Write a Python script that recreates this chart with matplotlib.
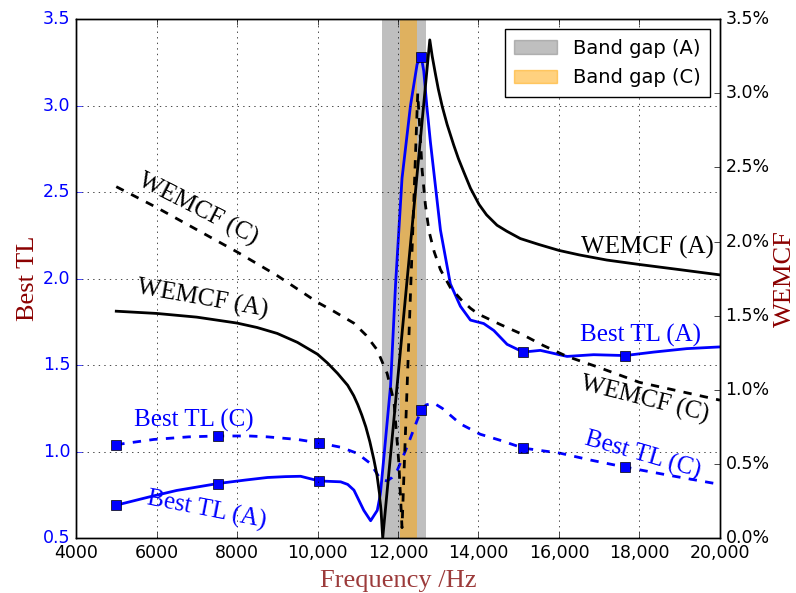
import numpy as np
import matplotlib
matplotlib.use('Agg')
import matplotlib.pyplot as plt
from matplotlib.patches import Patch
from matplotlib.ticker import FuncFormatter

# WEMCF of configuration A (right axis, %)
f_wemcf_a = [5000, 6000, 7000, 7500, 8000, 8500, 9000, 9500, 10000, 10250, 10500,
             10750, 10900, 11000, 11100, 11200, 11300, 11400, 11480, 11540, 11580,
             11620, 12790, 12850, 12930, 13000, 13100, 13220, 13385, 13500, 13633,
             13800, 14014, 14200, 14460, 14700, 15039, 15500, 16000, 16500, 17190,
             18000, 19008, 20000]
wemcf_a = [1.53, 1.515, 1.49, 1.47, 1.45, 1.42, 1.38, 1.32, 1.24, 1.18, 1.11,
           1.03, 0.96, 0.90, 0.83, 0.75, 0.65, 0.53, 0.42, 0.30, 0.18,
           0.0, 3.36, 3.25, 3.13, 3.03, 2.91, 2.79, 2.65, 2.56, 2.47,
           2.36, 2.25, 2.18, 2.11, 2.07, 2.02, 1.98, 1.94, 1.91, 1.875,
           1.845, 1.81, 1.775]

# WEMCF of configuration C (right axis, %)
f_wemcf_c = [5000, 6000, 7000, 8000, 9000, 10000, 10400, 10900, 11200, 11480, 11730,
             11900, 12020, 12100, 12490, 12550, 12600, 12680, 12770, 12900, 13055,
             13300, 13560, 13800, 14000, 14545, 15040, 15600, 16200, 17000, 18000,
             19000, 20000]
wemcf_c = [2.37, 2.23, 2.08, 1.93, 1.77, 1.59, 1.53, 1.45, 1.37, 1.27, 1.11,
           0.92, 0.51, 0.07, 3.0, 2.72, 2.48, 2.25, 2.07, 1.93, 1.81,
           1.69, 1.61, 1.55, 1.51, 1.44, 1.38, 1.30, 1.225, 1.15, 1.05,
           0.99, 0.93]

# Best TL of configuration A (left axis)
f_tl_a = [5000, 5860, 6500, 7520, 8200, 8755, 9200, 9580, 10040, 10575, 10750,
          10905, 11150, 11320, 11485, 11560, 11650, 11815, 11940, 12100, 12310,
          12475, 12580, 12640, 12715, 12805, 13055, 13300, 13550, 13800, 14130,
          14380, 14710, 15110, 15535, 16200, 16860, 17640, 18350, 19175, 20000]
tl_a = [0.69, 0.74, 0.775, 0.815, 0.835, 0.85, 0.855, 0.857, 0.83, 0.825, 0.81,
        0.777, 0.66, 0.60, 0.66, 0.75, 0.97, 1.38, 1.97, 2.58, 3.0,
        3.24, 3.28, 3.2, 3.0, 2.79, 2.28, 1.97, 1.84, 1.76, 1.74,
        1.70, 1.62, 1.575, 1.585, 1.55, 1.56, 1.555, 1.575, 1.595, 1.605]

# Best TL of configuration C (left axis)
f_tl_c = [5000, 5935, 6800, 7520, 8300, 8755, 9500, 10040, 10575, 10985, 11320,
          11565, 11730, 11850, 11980, 12230, 12475, 12580, 12700, 12890, 13100,
          13300, 13550, 13880, 14045, 14540, 15110, 16040, 16800, 17640, 18680, 20000]
tl_c = [1.04, 1.07, 1.085, 1.09, 1.09, 1.085, 1.07, 1.05, 1.025, 0.99, 0.93,
        0.84, 0.83, 0.85, 0.89, 1.03, 1.18, 1.24, 1.27, 1.28, 1.25,
        1.21, 1.16, 1.12, 1.10, 1.065, 1.02, 0.99, 0.95, 0.91, 0.865, 0.81]

# frequencies carrying square markers
mark_f = [5000, 7520, 10040, 12580, 15110, 17640]

# band gaps (Hz)
gap_a = (11600, 12700)
gap_c = (12050, 12460)

x_ticks = [4000, 6000, 8000, 10000, 12000, 14000, 16000, 18000, 20000]
x_ticklabels = ['4000', '6000', '8000', '10,000', '12,000', '14,000',
                '16,000', '18,000', '20,000']

plt.style.use('classic')
plt.rcParams['savefig.facecolor'] = 'white'
plt.rcParams['figure.facecolor'] = 'white'

serif = 'Liberation Serif'

fig = plt.figure(figsize=(7.96, 5.93), dpi=100)
ax = fig.add_axes([0.0955, 0.0927, 0.809, 0.875])
ax2 = ax.twinx()

# band gaps behind everything
ax.axvspan(*gap_a, color='gray', alpha=0.5, lw=0)
ax.axvspan(*gap_c, color='orange', alpha=0.5, lw=0)


def marker_idx(f):
    return [i for i, v in enumerate(f) if v in mark_f]


ax.plot(f_tl_a, tl_a, '-', color='b', lw=2, marker='s', ms=7, mec='k', mew=0.5,
        markevery=marker_idx(f_tl_a))
ax.plot(f_tl_c, tl_c, '--', color='b', lw=2, marker='s', ms=7, mec='k', mew=0.5,
        markevery=marker_idx(f_tl_c))
ax2.plot(f_wemcf_a, wemcf_a, '-', color='k', lw=2)
ax2.plot(f_wemcf_c, wemcf_c, '--', color='k', lw=2)

ax.set_xlim(4000, 20000)
ax.set_ylim(0.5, 3.5)
ax2.set_ylim(0, 3.5)
ax.set_xticks(x_ticks)
ax.set_xticklabels(x_ticklabels)
ax.set_yticks(np.arange(0.5, 3.51, 0.5))
ax2.set_yticks(np.arange(0, 3.51, 0.5))
ax2.yaxis.set_major_formatter(FuncFormatter(lambda v, p: '%.1f%%' % v))
ax.yaxis.set_major_formatter(FuncFormatter(lambda v, p: '%.1f' % v))
ax.tick_params(axis='y', colors='b', labelsize=12.5)
ax.tick_params(axis='x', labelsize=12.5)
ax2.tick_params(axis='y', labelsize=12.5)
ax.grid(True)

ax.set_xlabel('Frequency /Hz', family=serif, fontsize=19, color='#9c3b3b', labelpad=6)
ax.set_ylabel('Best TL', family=serif, fontsize=19, color='darkred', labelpad=3)
ax2.set_ylabel('WEMCF', family=serif, fontsize=19, color='darkred', labelpad=3)

# curve captions
txt = dict(family=serif, fontsize=18, ha='center', va='center')
ax.text(7030, 2.40, 'WEMCF (C)', rotation=-27, color='k', **txt)
ax.text(7150, 1.88, 'WEMCF (A)', rotation=-10, color='k', **txt)
ax.text(18190, 2.18, 'WEMCF (A)', rotation=0, color='k', **txt)
ax.text(18015, 1.67, 'Best TL (A)', rotation=0, color='b', **txt)
ax.text(18115, 1.30, 'WEMCF (C)', rotation=-14, color='k', **txt)
ax.text(18090, 0.98, 'Best TL (C)', rotation=-16, color='b', **txt)
ax.text(6930, 1.18, 'Best TL (C)', rotation=0, color='b', **txt)
ax.text(7250, 0.66, 'Best TL (A)', rotation=-11, color='b', **txt)

handles = [Patch(facecolor='gray', edgecolor='gray', alpha=0.5, label='Band gap (A)'),
           Patch(facecolor='orange', edgecolor='orange', alpha=0.5, label='Band gap (C)')]
ax2.legend(handles=handles, loc='upper right', fontsize=14, handlelength=2.2,
           labelspacing=0.55, borderpad=0.5)

fig.savefig('out.png', dpi=100)
